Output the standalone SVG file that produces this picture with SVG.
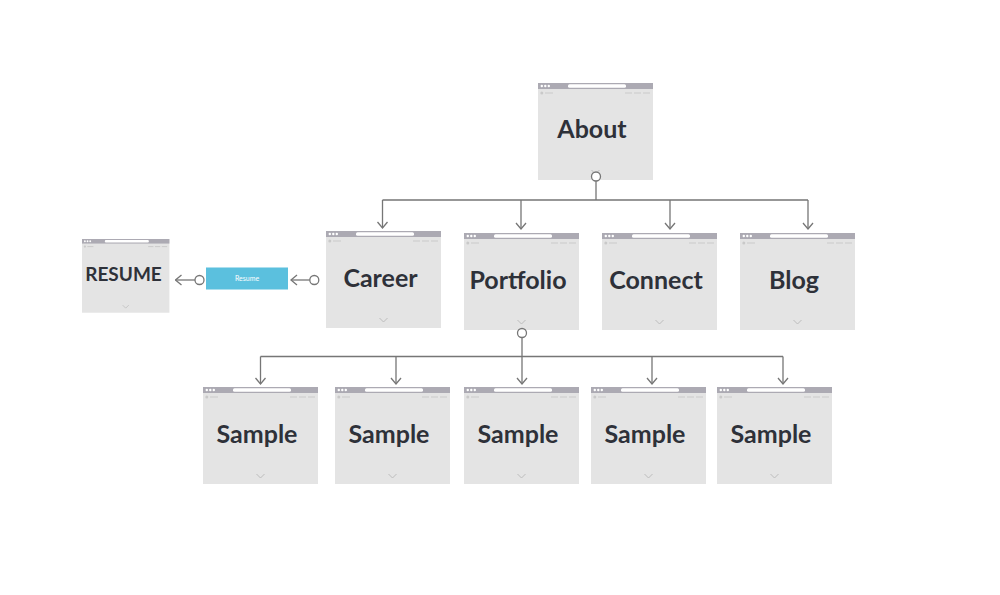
<svg xmlns="http://www.w3.org/2000/svg" xmlns:xlink="http://www.w3.org/1999/xlink" width="1000" height="595" viewBox="0 0 1000 595">
<style>
.bg{fill:#e4e4e4}
.bar{fill:#acaab3}
.dot{fill:#ffffff}
.url{fill:#ffffff}
.row{stroke:#c9c9c9;stroke-width:1.2;fill:none}
.chev{stroke:#bdbdbd;stroke-width:1;fill:none}
.lbl{font-family:Lato,"Liberation Sans",sans-serif;font-weight:700;fill:#2e3139;text-anchor:middle}
.conn{stroke:#767676;stroke-width:1.3;fill:none}
.knob{stroke:#767676;stroke-width:1.3;fill:#ffffff}
</style>
<defs>
<marker id="ah" viewBox="0 0 8 12" refX="7" refY="6" markerWidth="8" markerHeight="12" markerUnits="userSpaceOnUse" orient="auto">
<path d="M1,1 L7,6 L1,11" stroke="#767676" stroke-width="1.3" fill="none"/>
</marker>
<g id="frame">
<rect class="bg" x="0" y="0" width="115" height="97"/>
<rect class="bar" x="0" y="0" width="115" height="6"/>
<circle class="dot" cx="3.8" cy="3" r="1.2"/>
<circle class="dot" cx="7.3" cy="3" r="1.2"/>
<circle class="dot" cx="10.8" cy="3" r="1.2"/>
<rect class="url" x="30" y="1.3" width="58" height="3.4" rx="1.5"/>
<circle cx="3.8" cy="10" r="1.5" fill="#c9c9c9"/>
<path class="row" d="M7,10 H15 M87,10 H94 M96,10 H103 M105,10 H112"/>
<path class="chev" d="M53.5,87 L57.5,91 L61.5,87"/>
</g>
</defs>

<g id="node-about">
<use xlink:href="#frame" x="538" y="83"/>
<text class="lbl" x="592" y="138" font-size="25">About</text>
</g>
<g id="node-resume">
<use xlink:href="#frame" transform="translate(82,239) scale(0.76)"/>
<text class="lbl" x="123.5" y="281" font-size="19">RESUME</text>
</g>
<g id="node-resume-button">
<rect x="206" y="267.5" width="82" height="22" fill="#5bc0de"/>
<text x="247" y="281" font-family="Lato,'Liberation Sans',sans-serif" font-size="7" fill="#ffffff" text-anchor="middle">Resume</text>
</g>
<g id="node-career">
<use xlink:href="#frame" x="326" y="231"/>
<text class="lbl" x="380.5" y="287" font-size="25">Career</text>
</g>
<g id="node-portfolio">
<use xlink:href="#frame" x="464" y="233"/>
<text class="lbl" x="518" y="289" font-size="25">Portfolio</text>
</g>
<g id="node-connect">
<use xlink:href="#frame" x="602" y="233"/>
<text class="lbl" x="656" y="289" font-size="25">Connect</text>
</g>
<g id="node-blog">
<use xlink:href="#frame" x="740" y="233"/>
<text class="lbl" x="794" y="289" font-size="25">Blog</text>
</g>
<g id="node-sample-1">
<use xlink:href="#frame" x="203" y="387"/>
<text class="lbl" x="257" y="443" font-size="25">Sample</text>
</g>
<g id="node-sample-2">
<use xlink:href="#frame" x="335" y="387"/>
<text class="lbl" x="389" y="443" font-size="25">Sample</text>
</g>
<g id="node-sample-3">
<use xlink:href="#frame" x="464" y="387"/>
<text class="lbl" x="518" y="443" font-size="25">Sample</text>
</g>
<g id="node-sample-4">
<use xlink:href="#frame" x="591" y="387"/>
<text class="lbl" x="645" y="443" font-size="25">Sample</text>
</g>
<g id="node-sample-5">
<use xlink:href="#frame" x="717" y="387"/>
<text class="lbl" x="771" y="443" font-size="25">Sample</text>
</g>

<g id="connectors">
<path class="conn" d="M596,181 V200 M382.5,200 H808"/>
<path class="conn" marker-end="url(#ah)" d="M382.5,200 V228"/>
<path class="conn" marker-end="url(#ah)" d="M521,200 V229"/>
<path class="conn" marker-end="url(#ah)" d="M670,200 V229"/>
<path class="conn" marker-end="url(#ah)" d="M808,200 V229"/>
<circle class="knob" cx="596" cy="176.5" r="4.5"/>

<path class="conn" d="M522,337.5 V356.5 M260.5,356.5 H783"/>
<path class="conn" marker-end="url(#ah)" d="M260.5,356.5 V384"/>
<path class="conn" marker-end="url(#ah)" d="M396,356.5 V384"/>
<path class="conn" marker-end="url(#ah)" d="M522,356.5 V384"/>
<path class="conn" marker-end="url(#ah)" d="M652,356.5 V384"/>
<path class="conn" marker-end="url(#ah)" d="M783,356.5 V384"/>
<circle class="knob" cx="522" cy="333" r="4.5"/>

<path class="conn" marker-end="url(#ah)" d="M309.8,280 H291"/>
<circle class="knob" cx="314.3" cy="280" r="4.5"/>
<path class="conn" marker-end="url(#ah)" d="M195,280 H175.5"/>
<circle class="knob" cx="199.5" cy="280" r="4.5"/>
</g>
</svg>
